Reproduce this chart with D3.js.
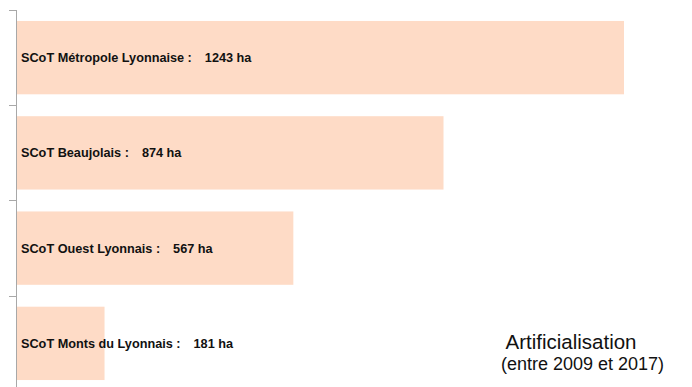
<!DOCTYPE html>
<html>
<head>
<meta charset="utf-8">
<script src="https://cdn.jsdelivr.net/npm/d3@7"></script>
<style>
  body { margin: 0; background: #fff; }
  svg { display: block; font-family: "Liberation Sans", Arial, sans-serif; }
</style>
</head>
<body>
<svg id="chart"></svg>
<script>
const categories = ["SCoT Métropole Lyonnaise", "SCoT Beaujolais", "SCoT Ouest Lyonnais", "SCoT Monts du Lyonnais"];
const values = [1243, 874, 567, 181];
const unit = "ha";
const titleLines = ["Artificialisation", "(entre 2009 et 2017)"];

const dimensions = {
  width: 692,
  height: 387,
  margin: { top: 10, bottom: -4, left: 16, right: 68 }
};

const svg = d3.select("#chart")
  .attr("width", dimensions.width)
  .attr("height", dimensions.height);

const data = categories.map((c, i) => ({ name: c, value: values[i] }));

const yScale = d3.scaleBand()
  .domain(categories)
  .range([dimensions.margin.top, dimensions.height - dimensions.margin.bottom])
  .paddingInner(0.23)
  .paddingOuter(0.115);

const xScale = d3.scaleLinear()
  .domain([0, 1243])
  .range([dimensions.margin.left, 624]);

// bars
svg.append("g")
  .selectAll("rect")
  .data(data)
  .enter()
  .append("rect")
  .attr("x", xScale(0))
  .attr("y", d => yScale(d.name))
  .attr("width", d => xScale(d.value) - xScale(0))
  .attr("height", yScale.bandwidth())
  .attr("fill", "#fedbc6");

// axis with ticks between the bands
const tickPos = yScale.domain().map(c => yScale(c) - yScale.step() * yScale.paddingInner() / 2);
tickPos[0] = dimensions.margin.top;
const axis = svg.append("g").attr("stroke", "#a8a8a8").attr("stroke-width", 1);
axis.append("line")
  .attr("x1", xScale(0) + 0.5).attr("x2", xScale(0) + 0.5)
  .attr("y1", dimensions.margin.top).attr("y2", dimensions.height);
axis.selectAll(".tick")
  .data(tickPos)
  .enter()
  .append("line")
  .attr("x1", xScale(0) - 7).attr("x2", xScale(0) + 0.5)
  .attr("y1", d => Math.round(d) + 0.5).attr("y2", d => Math.round(d) + 0.5);

// labels: name, then value a bit further right
const labels = svg.append("g")
  .selectAll("text")
  .data(data)
  .enter()
  .append("text")
  .attr("x", xScale(0) + 5)
  .attr("y", d => yScale(d.name) + yScale.bandwidth() / 2)
  .attr("dy", "0.35em")
  .attr("font-size", 12.7)
  .attr("font-weight", "bold")
  .attr("fill", "#111");
labels.append("tspan").text(d => `${d.name} :`);
labels.append("tspan").attr("dx", 13).text(d => `${d.value} ${unit}`);

// title
svg.append("text")
  .attr("x", 571).attr("y", 349)
  .attr("text-anchor", "middle")
  .attr("font-size", 20.5)
  .attr("fill", "#111")
  .text(titleLines[0]);
svg.append("text")
  .attr("x", 582.5).attr("y", 370)
  .attr("text-anchor", "middle")
  .attr("font-size", 18)
  .attr("fill", "#111")
  .text(titleLines[1]);
</script>
</body>
</html>
